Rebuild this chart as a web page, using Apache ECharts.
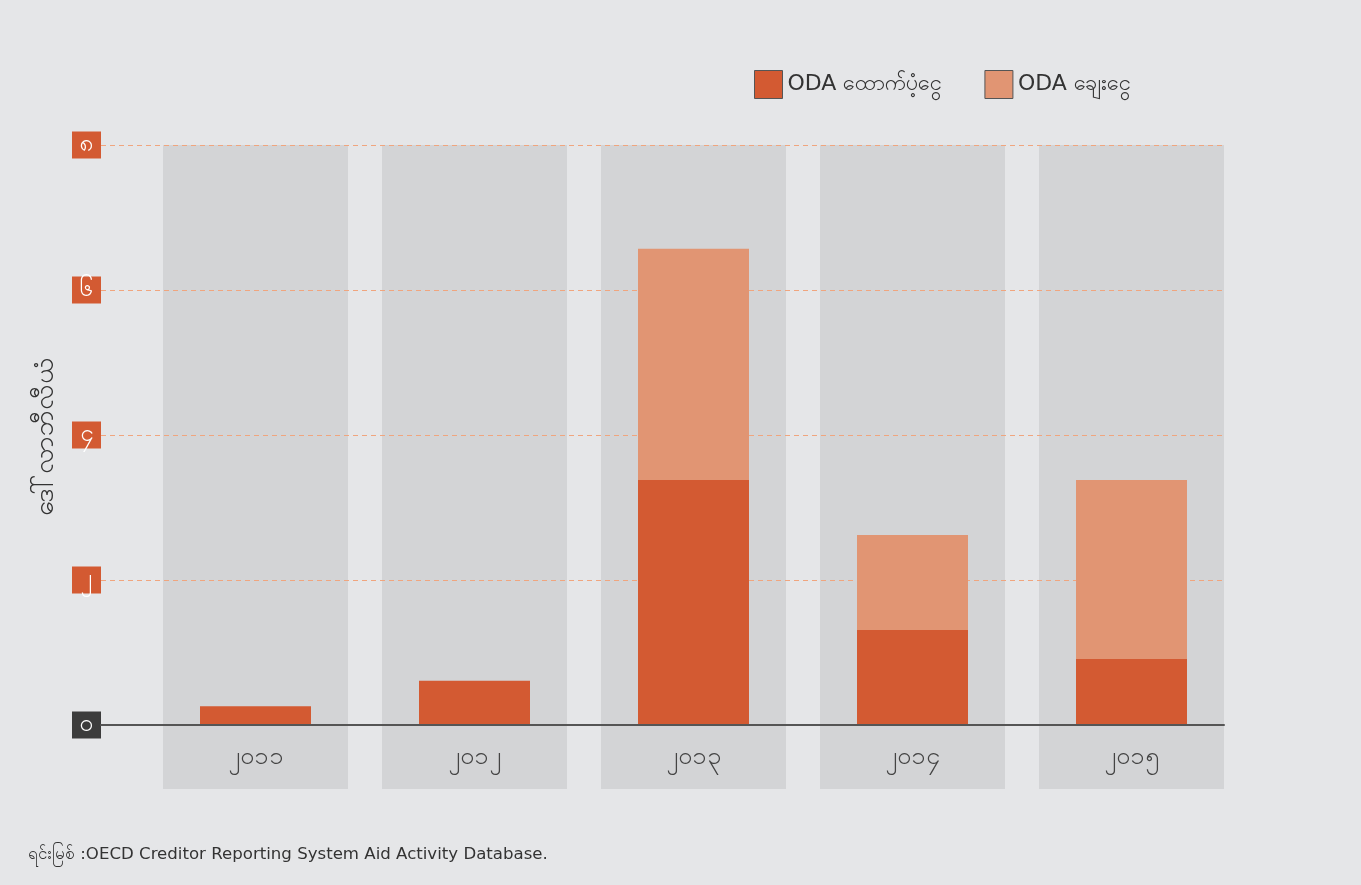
<!DOCTYPE html>
<html>
<head>
<meta charset="utf-8">
<script src="https://cdn.jsdelivr.net/npm/echarts@6/dist/echarts.min.js"></script>
<style>
  html, body { margin: 0; padding: 0; background: #e5e6e8; }
  #echart { width: 1361px; height: 885px; }
</style>
</head>
<body>
<div id="echart"></div>
<script>
// data
var years = ['၂၀၁၁', '၂၀၁၂', '၂၀၁၃', '၂၀၁၄', '၂၀၁၅'];
var grantValues = [0.26, 0.61, 3.38, 1.31, 0.91];   // ODA ထောက်ပံ့ငွေ
var loanValues = [0, 0, 3.19, 1.31, 2.47];          // ODA ချေးငွေ
var yTickLabels = ['၀', '၂', '၄', '၆', '၈'];
var seriesNames = ['ODA ထောက်ပံ့ငွေ', 'ODA ချေးငွေ'];

var font = 'Tahoma, "DejaVu Sans", "Noto Sans", sans-serif';

var chartDom = document.getElementById('echart');
var myChart = echarts.init(chartDom);

var option = {
  backgroundColor: '#e5e6e8',
  textStyle: { fontFamily: font },
  legend: {
    left: 749,
    top: 65,
    itemWidth: 28,
    itemHeight: 28,
    itemGap: 42,
    icon: 'rect',
    textStyle: { fontSize: 22, color: '#333', fontFamily: font },
    data: [
      { name: seriesNames[0], itemStyle: { borderColor: '#555', borderWidth: 1 } },
      { name: seriesNames[1], itemStyle: { borderColor: '#555', borderWidth: 1 } }
    ]
  },
  grid: [
    // dashed lines + y labels
    { left: 101, right: 137, top: 145, bottom: 160 },
    // gray column backgrounds
    { left: 146, right: 120, top: 145, bottom: 96 },
    // data bars
    { left: 146, right: 120, top: 145, bottom: 160 }
  ],
  xAxis: [
    {
      gridIndex: 0, type: 'value', min: 0, max: 1, show: true,
      axisLine: { show: true, onZero: false, lineStyle: { color: '#555', width: 2 } },
      axisTick: { show: false }, axisLabel: { show: false }, splitLine: { show: false },
      z: 3
    },
    {
      gridIndex: 1, type: 'category', data: years, show: false
    },
    {
      gridIndex: 2, type: 'category', data: years,
      axisLine: { show: false }, axisTick: { show: false },
      axisLabel: { margin: 20, fontSize: 25, color: '#444', fontFamily: font }
    }
  ],
  yAxis: [
    {
      gridIndex: 0, type: 'value', min: 0, max: 8, interval: 2,
      axisLine: { show: false }, axisTick: { show: false },
      splitLine: { show: true, lineStyle: { color: '#f0a57e', type: [5, 4], width: 1.2 } },
      axisLabel: {
        margin: 0,
        formatter: function (v) {
          var t = yTickLabels[Math.round(v / 2)];
          return v === 0 ? '{z|' + t + '}' : '{o|' + t + '}';
        },
        rich: {
          o: { backgroundColor: '#d35a32', color: '#fff', width: 29, height: 27, lineHeight: 27, align: 'center', fontSize: 24, fontFamily: font },
          z: { backgroundColor: '#3c3c3c', color: '#fff', width: 29, height: 27, lineHeight: 27, align: 'center', fontSize: 24, fontFamily: font }
        }
      },
      z: 1
    },
    { gridIndex: 1, type: 'value', min: 0, max: 1, show: false },
    { gridIndex: 2, type: 'value', min: 0, max: 8, show: false }
  ],
  series: [
    {
      type: 'bar', xAxisIndex: 1, yAxisIndex: 1,
      data: years.map(function () { return 1; }),
      barWidth: 185, silent: true, z: 0,
      itemStyle: { color: '#d3d4d6' }
    },
    {
      name: seriesNames[0], type: 'bar', xAxisIndex: 2, yAxisIndex: 2, stack: 'total',
      data: grantValues, barWidth: 111, z: 2,
      itemStyle: { color: '#d35a32' }
    },
    {
      name: seriesNames[1], type: 'bar', xAxisIndex: 2, yAxisIndex: 2, stack: 'total',
      data: loanValues, barWidth: 111, z: 2,
      itemStyle: { color: '#e19573' }
    }
  ],
  graphic: [
    {
      type: 'text', rotation: Math.PI / 2,
      x: 46, y: 437,
      style: { text: 'ဒေါ်လာဘီလီယံ', font: '27px ' + font, fill: '#333', align: 'center', verticalAlign: 'middle' }
    },
    {
      type: 'text', left: 28, top: 846,
      style: { text: 'ရင်းမြစ် :OECD Creditor Reporting System Aid Activity Database.', font: '16.6px ' + font, fill: '#333' }
    }
  ]
};

myChart.setOption(option);
</script>
</body>
</html>
